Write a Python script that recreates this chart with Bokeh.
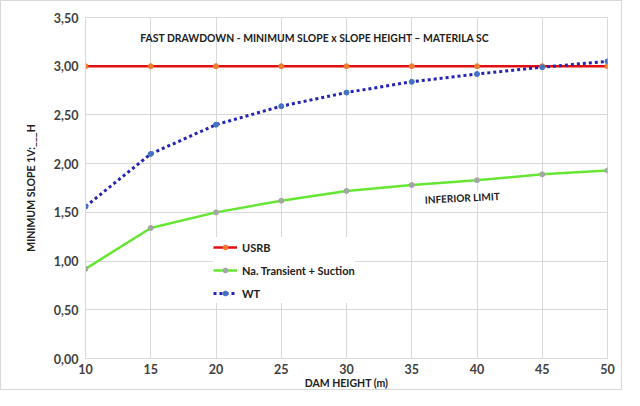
import math
from bokeh.plotting import figure
from bokeh.models import (ColumnDataSource, Legend, LegendItem, Label,
                          CustomJSTickFormatter, FixedTicker, Range1d)
from bokeh.embed import file_html
from bokeh.resources import INLINE

heights = [10, 15, 20, 25, 30, 35, 40, 45, 50]
usrb = [3.00, 3.00, 3.00, 3.00, 3.00, 3.00, 3.00, 3.00, 3.00]
na_transient = [0.92, 1.34, 1.50, 1.62, 1.72, 1.78, 1.83, 1.89, 1.93]
wt = [1.56, 2.10, 2.40, 2.59, 2.73, 2.84, 2.92, 2.99, 3.05]
y_ticks = [0.0, 0.5, 1.0, 1.5, 2.0, 2.5, 3.0, 3.5]

title_text = "FAST DRAWDOWN - MINIMUM SLOPE x SLOPE HEIGHT \u2013 MATERILA SC"
FONT = "Lato"

p = figure(width=622, height=390, output_backend="svg", toolbar_location=None,
           x_range=Range1d(10, 50), y_range=Range1d(0, 3.5),
           min_border_left=84, min_border_right=16, min_border_top=16,
           min_border_bottom=33)
p.outline_line_color = "#d9d9d9"
p.styles = {"border": "1px solid #d9d9d9"}

src = ColumnDataSource(dict(x=heights, usrb=usrb, na=na_transient, wt=wt))

r1 = p.line("x", "usrb", source=src, line_color="#e01010", line_width=2.5)
m1 = p.scatter("x", "usrb", source=src, size=5, fill_color="#ed7d31", line_color="#ed7d31")
r2 = p.line("x", "na", source=src, line_color="#66e633", line_width=2.5)
m2 = p.scatter("x", "na", source=src, size=5, fill_color="#a5a5a5", line_color="#a5a5a5")
r3 = p.line("x", "wt", source=src, line_color="#2323b5", line_width=3, line_dash="3 3")
m3 = p.scatter("x", "wt", source=src, size=5, fill_color="#4472c4", line_color="#4472c4")

p.xaxis.ticker = FixedTicker(ticks=heights)
p.yaxis.ticker = FixedTicker(ticks=y_ticks)
p.yaxis.formatter = CustomJSTickFormatter(code="return tick.toFixed(2).replace('.', ',');")

for ax in (p.xaxis, p.yaxis):
    ax.major_label_text_font = FONT
    ax.major_label_text_font_style = "bold"
    ax.major_label_text_font_size = "12.5px"
    ax.major_label_text_color = "#404040"
    ax.axis_line_color = "#d9d9d9"
    ax.major_tick_line_color = None
    ax.minor_tick_line_color = None
    ax.major_tick_out = 0
    ax.axis_label_text_font = FONT
    ax.axis_label_text_font_style = "bold"
    ax.axis_label_text_font_size = "10.5px"
    ax.axis_label_text_color = "#202020"

p.xaxis.major_label_standoff = 5
p.xaxis.axis_label = "DAM HEIGHT (m)"
p.xaxis.axis_label_standoff = 0
p.yaxis.major_label_standoff = 7
p.yaxis.axis_label = "MINIMUM SLOPE 1V:___H"
p.yaxis.axis_label_standoff = 14

p.xgrid.grid_line_color = "#d9d9d9"
p.ygrid.grid_line_color = "#d9d9d9"
p.xgrid.ticker = FixedTicker(ticks=heights)
p.ygrid.ticker = FixedTicker(ticks=y_ticks)

p.add_layout(Label(x=14.2, y=3.29, text=title_text, text_align="left",
                   text_baseline="middle", text_font=FONT, text_font_style="bold",
                   text_font_size="10.4px", text_color="#202020"))

p.add_layout(Label(x=36.0, y=1.63, text="INFERIOR LIMIT", text_align="left",
                   text_baseline="middle", angle=0.05, text_font=FONT,
                   text_font_style="bold", text_font_size="10px", text_color="#202020",
                   background_fill_color="white"))

legend = Legend(items=[LegendItem(label="USRB", renderers=[r1, m1]),
                       LegendItem(label="Na. Transient + Suction", renderers=[r2, m2]),
                       LegendItem(label="WT", renderers=[r3, m3])],
                location=(128, 55))
legend.border_line_color = None
legend.background_fill_color = "white"
legend.background_fill_alpha = 1.0
legend.label_text_font = FONT
legend.label_text_font_style = "bold"
legend.label_text_font_size = "11px"
legend.label_text_color = "#202020"
legend.glyph_width = 24
legend.glyph_height = 12
legend.label_height = 20
legend.spacing = 3
legend.padding = 6
p.add_layout(legend)

open("out.html", "w").write(file_html(p, INLINE))
